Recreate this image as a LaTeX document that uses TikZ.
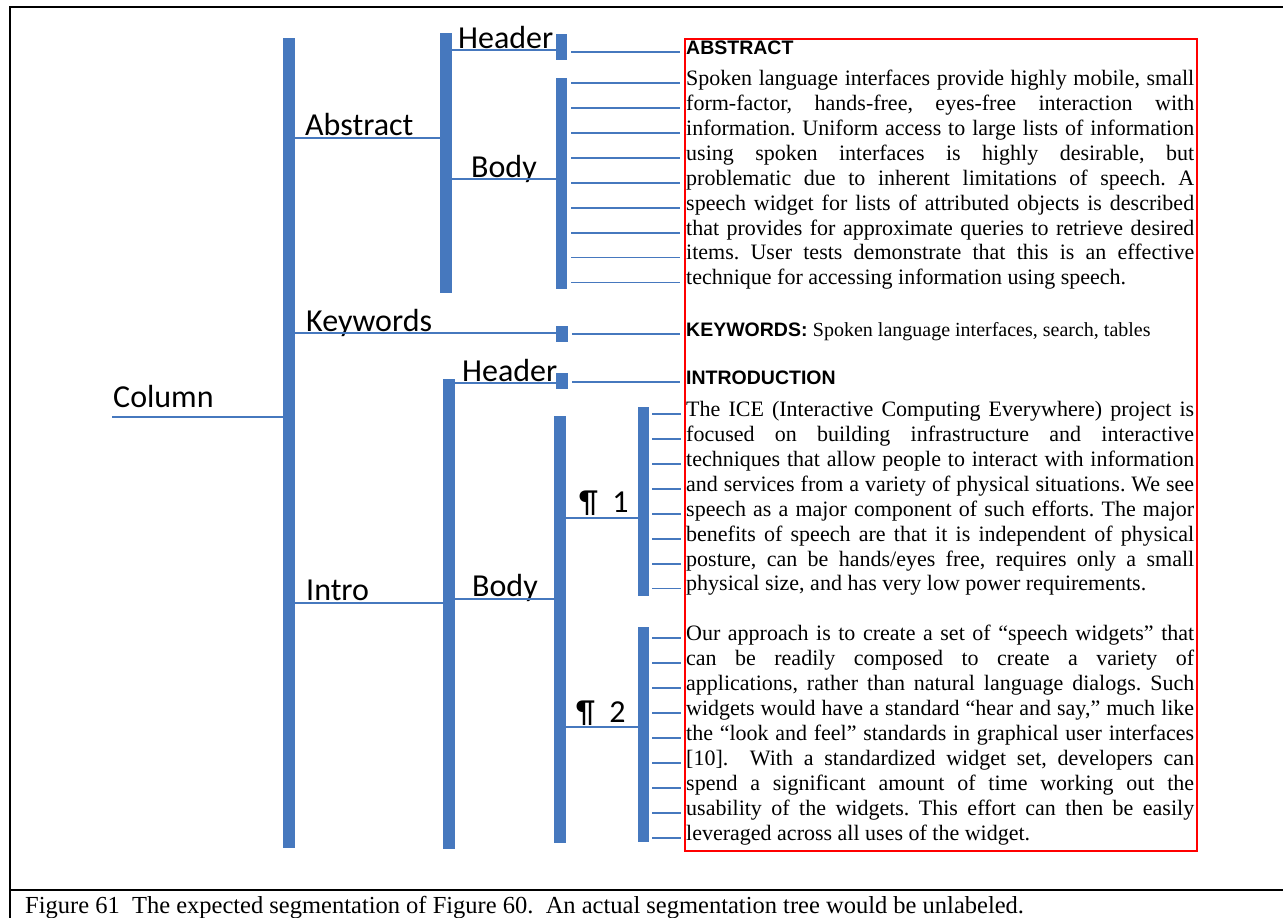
\documentclass[tikz,border=0pt]{standalone}
\usepackage{fontspec}
\setmainfont{Liberation Serif}
\newfontfamily\calib{Carlito}
\newfontfamily\arialf{Liberation Sans}
\usepackage{xcolor}
\usetikzlibrary{math}
\definecolor{barblue}{RGB}{70,120,190}
\frenchspacing

\tikzset{
  bar/.style={fill=barblue, inner sep=0, minimum width=11.5pt, anchor=north west},
  conn/.style={draw=barblue, line width=1.7pt},
  lbl/.style={font=\calib\fontsize{32}{32}\selectfont, anchor=base west, inner sep=0},
  txtline/.style={font=\fontsize{22}{25}\selectfont, anchor=base west, inner sep=0},
  hdline/.style={font=\arialf\bfseries\fontsize{19.5}{22}\selectfont, anchor=base west, inner sep=0},
}

\begin{document}
\begin{tikzpicture}[x=1pt,y=-1pt]
\tikzmath{
\ls=24.9;
\tw=508;
}
\useasboundingbox (0,0) rectangle (1283,918);

% frame and caption
\draw[line width=2pt] (1290,7) -- (10,7) -- (10,925);
\draw[line width=2pt] (10,890) -- (1290,890);
\node[font=\fontsize{24.5}{28}\selectfont, anchor=base west, inner sep=0] (caption) at (25,913)
  {Figure 61\ \ The expected segmentation of Figure 60.\ \ An actual segmentation tree would be unlabeled.};

% page segment
\draw[red, line width=1.5pt] (685,39) rectangle (1197,851);

% bars
\node[bar, minimum height=810pt] (colbar) at (283,38) {};
\node[bar, minimum height=260pt] (absbar) at (440,33) {};
\node[bar, minimum height=26pt] (abshead) at (555.5,34) {};
\node[bar, minimum height=211pt] (absbody) at (555.5,78) {};
\node[bar, minimum height=16pt] (kwbar) at (556,326) {};
\node[bar, minimum height=470pt] (introbar) at (443,379) {};
\node[bar, minimum height=16pt] (introhead) at (556,373) {};
\node[bar, minimum height=427pt] (introbody) at (554,416) {};
\node[bar, minimum height=189pt] (ponebar) at (637.5,407) {};
\node[bar, minimum height=215pt] (ptwobar) at (637.5,627) {};

% labels
\node[lbl] (lcol) at (113,407) {Column};
\node[lbl] (labs) at (305,135) {Abstract};
\node[lbl] (lkw) at (306,331) {Keywords};
\node[lbl] (lintro) at (306,600) {Intro};
\node[lbl] (labshead) at (458,48) {Header};
\node[lbl] (labsbody) at (471,177) {Body};
\node[lbl] (lintrohead) at (462,381) {Header};
\node[lbl] (lintrobody) at (472,596) {Body};
\node[lbl] (lpone) at (579,512) {¶\ \ 1};
\node[lbl] (lptwo) at (576,722) {¶\ \ 2};

% tree
\coordinate (root) at (112,417);
\draw[conn] (root) -- (colbar.west |- root);
\draw[conn] (colbar.east |- 0,138) -- (absbar.west |- 0,138);
\draw[conn] (colbar.east |- 0,333) -- (kwbar.west |- 0,333);
\draw[conn] (colbar.east |- 0,603) -- (introbar.west |- 0,603);
\draw[conn] (absbar.east |- 0,50) -- (abshead.west |- 0,50);
\draw[conn] (absbar.east |- 0,179) -- (absbody.west |- 0,179);
\draw[conn] (introbar.east |- 0,383) -- (introhead.west |- 0,383);
\draw[conn] (introbar.east |- 0,599) -- (introbody.west |- 0,599);
\draw[conn] (introbody.east |- 0,518) -- (ponebar.west |- 0,518);
\draw[conn] (introbody.east |- 0,727) -- (ptwobar.west |- 0,727);

% headings
\node[hdline] (thabs) at (686,54) {ABSTRACT};
\node[hdline] (thkw) at (686,336) {KEYWORDS: {\rmfamily\mdseries\fontsize{20}{24}\selectfont Spoken language interfaces, search, tables}};
\node[hdline] (thintro) at (686,384) {INTRODUCTION};
\draw[conn, shorten <=4pt, shorten >=6pt] (abshead.east |- thabs.mid west) -- (thabs.mid west);
\draw[conn, shorten <=4pt, shorten >=6pt] (kwbar.east |- thkw.mid west) -- (thkw.mid west);
\draw[conn, shorten <=4pt, shorten >=6pt] (introhead.east |- thintro.mid west) -- (thintro.mid west);

% abstract body
\foreach \t [count=\i] in {
  {Spoken language interfaces provide highly mobile, small},
  {form-factor, hands-free, eyes-free interaction with},
  {information. Uniform access to large lists of information},
  {using spoken interfaces is highly desirable, but},
  {problematic due to inherent limitations of speech. A},
  {speech widget for lists of attributed objects is described},
  {that provides for approximate queries to retrieve desired},
  {items. User tests demonstrate that this is an effective}}
  \node[txtline] (a\i) at (686,{85.6+\ls*(\i-1)}) {\makebox[\tw pt][s]{\t}};
\node[txtline] (a9) at (686,{85.6+\ls*8}) {technique for accessing information using speech.};
\foreach \i in {1,...,9}
  \draw[conn, shorten <=4pt, shorten >=6pt] (absbody.east |- a\i.mid west) -- (a\i.mid west);

% paragraph 1
\foreach \t [count=\i] in {
  {The ICE (Interactive Computing Everywhere) project is},
  {focused on building infrastructure and interactive},
  {techniques that allow people to interact with information},
  {and services from a variety of physical situations. We see},
  {speech as a major component of such efforts. The major},
  {benefits of speech are that it is independent of physical},
  {posture, can be hands/eyes free, requires only a small}}
  \node[txtline] (b\i) at (686,{416.6+\ls*(\i-1)}) {\makebox[\tw pt][s]{\t}};
\node[txtline] (b8) at (686,{416.6+\ls*7}) {physical size, and has very low power requirements.};
\foreach \i in {1,...,8}
  \draw[conn, shorten <=3pt, shorten >=5pt] (ponebar.east |- b\i.mid west) -- (b\i.mid west);

% paragraph 2
\foreach \t [count=\i] in {
  {Our approach is to create a set of “speech widgets” that},
  {can be readily composed to create a variety of},
  {applications, rather than natural language dialogs. Such},
  {widgets would have a standard “hear and say,” much like},
  {the “look and feel” standards in graphical user interfaces},
  {[10].\ \ With a standardized widget set, developers can},
  {spend a significant amount of time working out the},
  {usability of the widgets. This effort can then be easily}}
  \node[txtline] (c\i) at (686,{640+25*(\i-1)}) {\makebox[\tw pt][s]{\t}};
\node[txtline] (c9) at (686,{640+25*8}) {leveraged across all uses of the widget.};
\foreach \i in {1,...,9}
  \draw[conn, shorten <=3pt, shorten >=5pt] (ptwobar.east |- c\i.mid west) -- (c\i.mid west);
\end{tikzpicture}
\end{document}
